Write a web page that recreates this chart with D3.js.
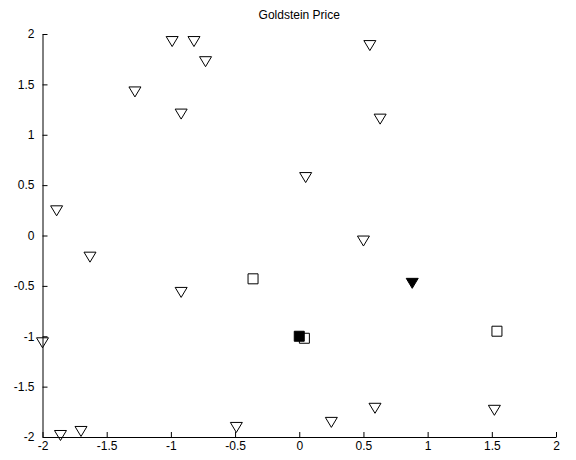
<!DOCTYPE html>
<html><head><meta charset="utf-8">
<script src="https://cdn.jsdelivr.net/npm/d3@7"></script>
<style>body{margin:0;background:#fff}</style>
</head><body>
<script>
const title = "Goldstein Price";
const xTicks = [-2,-1.5,-1,-0.5,0,0.5,1,1.5,2];
const yTicks = [-2,-1.5,-1,-0.5,0,0.5,1,1.5,2];
// open down-triangles
const triX = [-0.99,-0.82,-0.73,0.55,-1.28,-0.92,0.63,0.05,-1.89,-1.63,0.50,-0.92,-2.0,-1.86,-1.70,-0.49,0.25,0.59,1.52];
const triY = [1.93,1.93,1.73,1.89,1.43,1.21,1.16,0.58,0.25,-0.21,-0.05,-0.56,-1.06,-1.98,-1.94,-1.90,-1.85,-1.71,-1.73];
// open squares
const sqX = [-0.36,0.04,1.54];
const sqY = [-0.43,-1.02,-0.95];
// filled triangle
const ftX = [0.88];
const ftY = [-0.47];
// filled square
const fsX = [0.0];
const fsY = [-1.0];

const W=576,H=460;
const m={l:42.5,r:20,t:34,b:23};
const svg=d3.select("body").append("svg").attr("width",W).attr("height",H);
const x=d3.scaleLinear().domain([-2,2]).range([m.l,W-m.r]);
const y=d3.scaleLinear().domain([-2,2]).range([H-m.b,m.t]);

const font="Liberation Sans, Arial, sans-serif";
svg.append("text").attr("x",(x(-2)+x(2))/2).attr("y",19).attr("text-anchor","middle")
  .attr("font-family",font).attr("font-size",12).text(title);

const fmt=d=>String(d);
const xa=svg.append("g").attr("transform",`translate(0,${y(-2)})`)
  .call(d3.axisBottom(x).tickValues(xTicks).tickSizeInner(-5).tickSizeOuter(0).tickPadding(8).tickFormat(fmt));
const ya=svg.append("g").attr("transform",`translate(${x(-2)},0)`)
  .call(d3.axisLeft(y).tickValues(yTicks).tickSizeInner(-5).tickSizeOuter(0).tickPadding(8).tickFormat(fmt));
[xa,ya].forEach(g=>{
  g.selectAll("text").attr("font-family",font).attr("font-size",12).attr("fill","#000");
  g.select(".domain").attr("stroke","#000");
  g.selectAll(".tick line").attr("stroke","#000");
});
xa.selectAll("text").attr("dy","0.45em");

const tri="M-6,-4.5L6,-4.5L0,5.5Z";
const sq="M-5,-5L5,-5L5,5L-5,5Z";
const g=svg.append("g");
g.selectAll(".t").data(d3.range(triX.length)).join("path")
  .attr("d",tri).attr("transform",i=>`translate(${x(triX[i])},${y(triY[i])})`)
  .attr("fill","none").attr("stroke","#000").attr("stroke-width",1);
g.selectAll(".s").data(d3.range(sqX.length)).join("path")
  .attr("d",sq).attr("transform",i=>`translate(${x(sqX[i])},${y(sqY[i])})`)
  .attr("fill","none").attr("stroke","#000").attr("stroke-width",1);
g.selectAll(".ft").data(d3.range(ftX.length)).join("path")
  .attr("d",tri).attr("transform",i=>`translate(${x(ftX[i])},${y(ftY[i])})`)
  .attr("fill","#000").attr("stroke","#000");
g.selectAll(".fs").data(d3.range(fsX.length)).join("path")
  .attr("d",sq).attr("transform",i=>`translate(${x(fsX[i])},${y(fsY[i])})`)
  .attr("fill","#000").attr("stroke","#000");
</script>
</body></html>
